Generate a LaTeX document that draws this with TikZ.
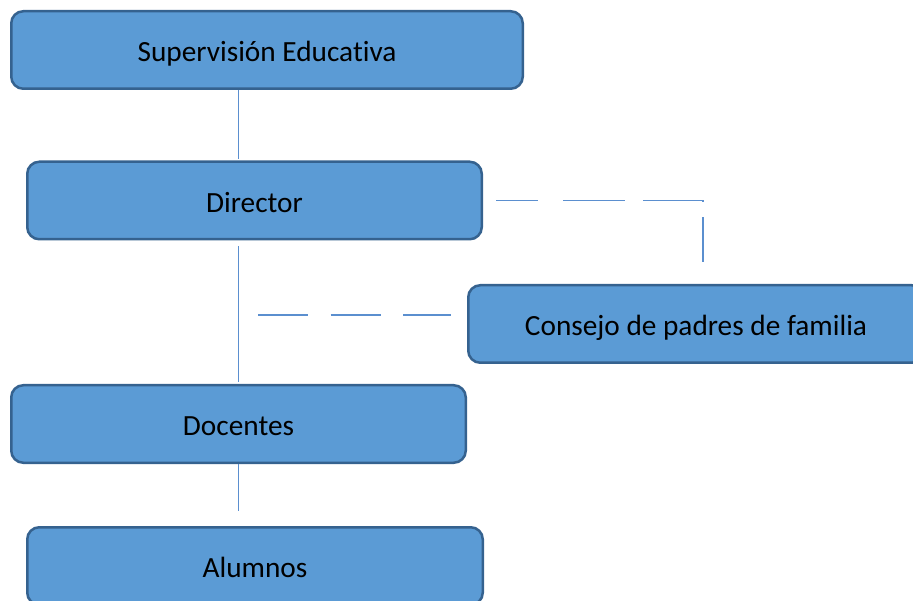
\documentclass[tikz,border=0pt]{standalone}
\usepackage{fontspec}
\setmainfont{Carlito}[Ligatures=NoCommon]
\definecolor{boxfill}{HTML}{5B9BD5}
\definecolor{boxline}{HTML}{35628F}
\definecolor{linkcol}{HTML}{5B8FCF}

\begin{document}
\begin{tikzpicture}[x=1pt, y=-1pt,
	box/.style={draw=boxline, fill=boxfill, line width=2.5pt, rounded corners=12pt,
		minimum height=77.5pt, inner sep=0pt, text height=26.4pt, text depth=2.9pt,
		font=\fontsize{29.3}{35}\selectfont},
	link/.style={draw=linkcol, line width=1.8pt},
	dlink/.style={link, dash pattern=on 50pt off 22.5pt}]
\useasboundingbox (0,0) rectangle (913,601);

\foreach \name/\cx/\cy/\w/\txt in {sup/267/50/511.5/Supervisión Educativa,
	dir/254.5/200.5/454.5/Director,
	con/696/324/455.5/Consejo de padres de familia,
	doc/238.5/424/454.5/Docentes,
	alu/255/566/455.5/Alumnos}
	\node[box, minimum width=\w pt] (\name) at (\cx,\cy) {\txt};

\coordinate (knee) at (703,200.5);
\coordinate (tee) at (238.5,315);

\draw[link, shorten >=1.5pt] (sup.south -| doc.center) -- (dir.north -| doc.center);
\draw[link, shorten <=6pt, shorten >=1.5pt] (dir.south -| doc.center) -- (doc.north);
\draw[link, shorten >=15pt] (doc.south) -- (alu.north -| doc.center);

\draw[link, dash pattern=on 42pt off 25pt on 62pt off 18pt on 62pt off 15pt on 47pt off 40pt,
	shorten <=13pt, shorten >=22pt] (dir.east) -- (knee) -- (knee |- con.north);
\draw[dlink, shorten <=19.5pt, shorten >=16pt] (tee) -- (tee -| con.west);
\end{tikzpicture}
\end{document}
